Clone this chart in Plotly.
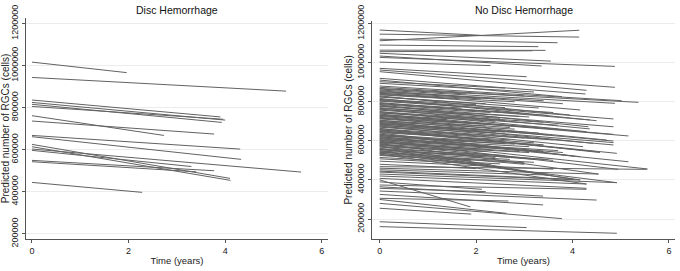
import plotly.graph_objects as go

# ---------------- data ----------------
# Disc Hemorrhage group: each eye = line from time 0 to its last follow-up
dh_start_value = [1017000, 944000, 836500, 825000, 816000, 806000, 762000, 736500,
                  668000, 662000, 625400, 614300, 603200, 596800, 549200, 542900, 444400]
dh_end_time = [1.96, 5.26, 3.90, 4.00, 3.93, 3.96, 2.73, 3.77,
               4.31, 4.33, 4.10, 4.11, 5.57, 3.30, 3.77, 3.40, 2.28]
dh_end_value = [967000, 879000, 756000, 741000, 730000, 745000, 668000, 674600,
                603000, 554000, 463500, 454000, 493700, 520000, 500000, 495000, 397000]

# No Disc Hemorrhage group
ndh_start_value = [
    1146000, 1167000, 1112000, 1120000, 1090000, 1064000, 1056000, 1048000, 1034000, 1027000,
    1003000, 971000, 962500, 954000, 920000, 911000, 902600, 894400, 880600,
    868000, 860000, 852000, 845000, 838000, 830000, 824000, 817000, 810000, 803000,
    796000, 790000, 783000, 776000, 770000, 763000, 757000, 750000, 744000, 737000,
    731000, 725000, 718000, 712000, 706000, 700000, 694000, 688000, 682000, 676000,
    670000, 664000, 658000, 652000, 646000, 640000, 634000, 628000, 622000, 616000,
    610000, 604000, 598000, 592000, 586000, 580000, 574000, 568000, 562000, 556000,
    550000, 544000, 538000, 532000,
    865000, 848000, 835000, 812000, 792000, 778000, 760000, 742000, 728000, 715000,
    698000, 685000, 672000, 655000, 642000, 625000, 612000, 600000, 588000, 576000,
    560000, 548000, 535000, 525000, 515000,
    874000, 856000, 842000, 826000, 806000, 786000, 766000, 748000, 733000, 720000,
    703000, 690000, 678000, 661000, 648000, 632000, 619000, 606000, 594000, 582000,
    570000, 554000, 541000, 528000, 508000, 496000, 480000,
    468000, 460000, 452000, 445000, 440000, 430000, 420000, 408000, 400000, 390000,
    374000, 365000, 357000, 343000, 326000, 306000, 300000, 280000, 255000, 186000, 161000,
]
ndh_end_time = [
    4.14, 2.10, 4.14, 3.69, 3.29, 3.44, 3.17, 3.55, 3.36, 4.88,
    2.30, 3.05, 4.88, 4.29, 4.27, 3.78, 2.60, 3.20, 5.02,
    5.37, 4.88, 3.40, 4.16, 2.80, 3.95, 2.20, 4.50, 4.85, 3.60,
    4.36, 2.90, 4.33, 3.10, 4.85, 4.36, 2.50, 4.29, 3.70, 4.85,
    5.16, 3.30, 4.71, 2.70, 4.85, 4.43, 3.50, 4.85, 4.85, 4.22,
    3.00, 4.57, 4.92, 4.50, 3.20, 4.02, 4.16, 2.60, 5.16, 3.80,
    3.40, 5.56, 4.95, 2.90, 4.54, 3.60, 3.50, 3.20, 4.02, 2.40,
    4.16, 3.00, 4.92, 4.29,
    1.80, 2.40, 1.50, 2.00, 1.70, 2.30, 1.90, 2.60, 1.40, 2.10,
    2.80, 1.60, 2.40, 1.90, 2.70, 2.00, 3.10, 1.70, 2.30, 1.80,
    2.60, 2.10, 3.20, 1.90, 2.50,
    3.00, 3.80, 2.10, 3.30, 2.60, 3.50, 2.90, 3.40, 2.40, 3.70,
    2.20, 3.30, 2.60, 3.60, 2.30, 3.40, 2.80, 3.70, 2.50, 3.10,
    2.20, 3.50, 2.70, 3.00, 2.30, 3.60, 2.00,
    5.54, 4.54, 3.50, 4.02, 4.16, 4.92, 4.29, 4.29, 1.88, 2.12,
    4.29, 3.39, 2.20, 4.50, 3.39, 2.67, 2.63, 3.78, 1.90, 3.05, 4.92,
]
ndh_end_value = [
    1131000, 1140000, 1166000, 1102000, 1082000, 1063000, 1061000, 1008000, 983000, 981000,
    985000, 928000, 874000, 858500, 839700, 826000, 870000, 850000, 805400,
    797000, 792000, 805000, 758000, 800000, 732000, 790000, 703000, 712000, 745000,
    707000, 742000, 672000, 722000, 672000, 661000, 715000, 647000, 680000, 633000,
    625000, 668000, 604000, 668000, 599000, 587000, 630000, 591000, 579000, 570000,
    615000, 540000, 536000, 545000, 590000, 522000, 519000, 585000, 493000, 540000,
    545000, 456000, 454000, 545000, 430000, 500000, 425000, 505000, 403000, 515000,
    400000, 480000, 386000, 379000,
    840000, 815000, 815000, 785000, 768000, 745000, 733000, 705000, 708000, 686000,
    660000, 662000, 640000, 628000, 605000, 598000, 570000, 577000, 556000, 552000,
    525000, 520000, 490000, 498000, 482000,
    830000, 790000, 815000, 768000, 770000, 730000, 725000, 695000, 700000, 660000,
    675000, 640000, 645000, 605000, 618000, 580000, 583000, 550000, 560000, 540000,
    545000, 505000, 505000, 488000, 478000, 455000, 458000,
    454000, 430000, 425000, 403000, 400000, 386000, 379000, 357000, 262000, 352000,
    352000, 317000, 340000, 297000, 272000, 292000, 229000, 202000, 225000, 156000, 127000,
]

y_ticks = [200000, 400000, 600000, 800000, 1000000, 1200000]
y_tick_labels = ["200000", "400000", "600000", "800000", "1000000", "1200000"]
x_ticks = [0, 2, 4, 6]
titles = ["Disc Hemorrhage", "No Disc Hemorrhage"]

# ---------------- figure ----------------
W, H = 680, 271
LINE = "#626262"
FONT = "Liberation Sans, Arial, sans-serif"

def segs(starts, times, ends):
    xs, ys = [], []
    for s, t, e in zip(starts, times, ends):
        xs += [0, t, None]
        ys += [s, e, None]
    return xs, ys

fig = go.Figure()
x1, y1 = segs(dh_start_value, dh_end_time, dh_end_value)
fig.add_trace(go.Scatter(x=x1, y=y1, mode="lines", line=dict(color=LINE, width=1),
                         xaxis="x", yaxis="y", showlegend=False, hoverinfo="skip"))
x2, y2 = segs(ndh_start_value, ndh_end_time, ndh_end_value)
fig.add_trace(go.Scatter(x=x2, y=y2, mode="lines", line=dict(color=LINE, width=1),
                         xaxis="x2", yaxis="y2", showlegend=False, hoverinfo="skip"))

def px(v):
    return v / W

def py(v):
    return 1 - v / H

axis_common = dict(showline=True, linecolor="#555555", linewidth=1, ticks="outside",
                   ticklen=3, tickcolor="#555555", zeroline=False, automargin=False,
                   tickfont=dict(family=FONT, size=9, color="#222222"))

xtitle_font = dict(family=FONT, size=9.5, color="#222222")
ytitle_font = dict(family=FONT, size=10, color="#222222")

fig.update_layout(
    width=W, height=H, margin=dict(l=0, r=0, t=0, b=0),
    paper_bgcolor="white", plot_bgcolor="white",
    font=dict(family=FONT, color="#222222"),
    xaxis=dict(domain=[px(26), px(328)], range=[-0.124, 6.128], tickvals=x_ticks,
               showgrid=False, anchor="y",
               title=dict(text="Time (years)", standoff=2, font=xtitle_font),
               **axis_common),
    yaxis=dict(domain=[py(239), py(18)], range=[175000, 1227000], tickvals=y_ticks,
               ticktext=y_tick_labels,
               tickangle=-90, showgrid=True, gridcolor="#ececec", gridwidth=1, anchor="x",
               title=dict(text="Predicted number of RGCs (cells)", standoff=1, font=ytitle_font),
               **axis_common),
    xaxis2=dict(domain=[px(372), px(675)], range=[-0.16, 6.127], tickvals=x_ticks,
                showgrid=False, anchor="y2",
                title=dict(text="Time (years)", standoff=2, font=xtitle_font),
                **axis_common),
    yaxis2=dict(domain=[py(239), py(20.7)], range=[97660, 1214800], tickvals=y_ticks,
                ticktext=y_tick_labels,
                tickangle=-90, showgrid=True, gridcolor="#ececec", gridwidth=1, anchor="x2",
                title=dict(text="Predicted number of RGCs (cells)", standoff=1, font=ytitle_font),
                **axis_common),
    annotations=[
        dict(text=titles[0], x=px(177), y=py(10), xref="paper", yref="paper",
             xanchor="center", yanchor="middle",
             showarrow=False, font=dict(family=FONT, size=10.5, color="#111111")),
        dict(text=titles[1], x=px(523.5), y=py(10), xref="paper", yref="paper",
             xanchor="center", yanchor="middle",
             showarrow=False, font=dict(family=FONT, size=10.5, color="#111111")),
    ],
)

fig.write_html("out.html", config={"displayModeBar": False},
               post_script="document.body.style.margin='0';document.body.style.padding='0';")
